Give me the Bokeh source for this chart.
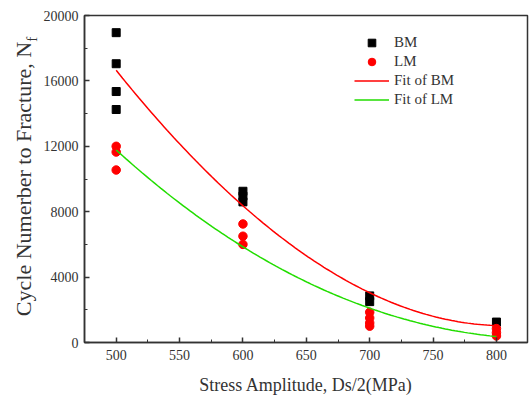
import numpy as np
from bokeh.plotting import figure
from bokeh.layouts import row
from bokeh.models import Range1d, FixedTicker, Legend, LegendItem
from bokeh.embed import file_html
from bokeh.resources import INLINE

# scatter data
bm_x = [500, 500, 500, 500, 600, 600, 600, 700, 700, 800]
bm_y = [18950, 17050, 15350, 14250, 9250, 8950, 8600, 2850, 2500, 1250]
lm_x = [500, 500, 500, 600, 600, 600, 700, 700, 700, 700, 800, 800, 800]
lm_y = [12000, 11650, 10550, 7250, 6500, 6000, 1850, 1500, 1200, 1000, 850, 600, 400]

# points
fit_bm_x = [500, 567.6, 577, 600, 646, 700, 740, 800]
fit_bm_y = [16650, 10670, 10061, 8415, 5488, 3049, 1830, 1037]
fit_lm_x = [500, 567.6, 600, 646, 700, 740, 800]
fit_lm_y = [11768, 7561, 5854, 3780, 2195, 1130, 366]

x_ticks = [500, 550, 600, 650, 700, 750, 800]
x_minor = [525, 575, 625, 675, 725, 775]
y_ticks = [0, 4000, 8000, 12000, 16000, 20000]
y_minor = [2000, 6000, 10000, 14000, 18000]

y_label_main = "Cycle Numerber to Fracture, N"
y_label_sub = "f"
x_label = "Stress Amplitude, Ds/2(MPa)"

FONT = "Liberation Serif"
W_LAB = 40
H = 397
Y0, Y1 = 0, 20000

# ---- narrow figure holding the rotated y-axis title (with subscript) ----
lab = figure(width=W_LAB, height=H, output_backend="svg", toolbar_location=None,
             x_range=Range1d(0, W_LAB), y_range=Range1d(Y0, Y1),
             min_border_left=0, min_border_right=0,
             min_border_top=15, min_border_bottom=54)
lab.axis.visible = False
lab.grid.visible = False
lab.outline_line_color = None
lab.text(x=[23], y=[(Y0 + Y1) / 2], text=[y_label_main], angle=np.pi / 2,
         text_font=FONT, text_font_size="22px", text_color="#333333",
         text_align="center", text_baseline="middle")
lab.text(x=[31], y=[18400], text=[y_label_sub], angle=np.pi / 2,
         text_font=FONT, text_font_size="15px", text_color="#333333",
         text_align="left", text_baseline="middle")

# ---- main chart ----
p = figure(width=532 - W_LAB, height=H, output_backend="svg", toolbar_location=None,
           x_range=Range1d(475, 824.5), y_range=Range1d(Y0, Y1),
           min_border_left=82 - W_LAB, min_border_right=5, min_border_top=15,
           min_border_bottom=54)
p.grid.visible = False
p.outline_line_color = "#333333"
p.outline_line_width = 1.5

for ax in (p.xaxis[0], p.yaxis[0]):
    ax.axis_line_color = "#333333"
    ax.axis_line_width = 1.5
    ax.major_tick_in = 5
    ax.major_tick_out = 0
    ax.minor_tick_in = 3
    ax.minor_tick_out = 0
    ax.major_tick_line_color = "#333333"
    ax.minor_tick_line_color = "#333333"
    ax.major_tick_line_width = 1.5
    ax.major_label_text_font = FONT
    ax.major_label_text_font_size = "14px"
    ax.major_label_text_color = "#333333"
    ax.axis_label_text_font = FONT
    ax.axis_label_text_font_style = "normal"
    ax.axis_label_text_color = "#333333"

p.xaxis.ticker = FixedTicker(ticks=x_ticks, minor_ticks=x_minor)
p.yaxis.ticker = FixedTicker(ticks=y_ticks, minor_ticks=y_minor)
p.xaxis.major_label_standoff = 7
p.yaxis.major_label_standoff = 6
p.xaxis.axis_label = x_label
p.xaxis.axis_label_text_font_size = "18px"
p.xaxis.axis_label_standoff = 12

xs = np.linspace(500, 800, 120)
cb = np.polyfit(fit_bm_x, fit_bm_y, 3)
cl = np.polyfit(fit_lm_x, fit_lm_y, 3)

r_bm = p.scatter(bm_x, bm_y, marker="square", size=8, color="black")
r_lm = p.scatter(lm_x, lm_y, marker="circle", size=8.5, color="red")
r_fb = p.line(xs, np.polyval(cb, xs), line_color="red", line_width=1.5)
r_fl = p.line(xs, np.polyval(cl, xs), line_color="#22dd00", line_width=1.5)

legend = Legend(items=[
    LegendItem(label="BM", renderers=[r_bm]),
    LegendItem(label="LM", renderers=[r_lm]),
    LegendItem(label="Fit of BM", renderers=[r_fb]),
    LegendItem(label="Fit of LM", renderers=[r_fl]),
], location=(270, 233))
legend.border_line_color = None
legend.background_fill_alpha = 0
legend.label_text_font = FONT
legend.label_text_font_size = "15px"
legend.label_text_color = "#333333"
legend.glyph_width = 35
legend.glyph_height = 19
legend.label_height = 19
legend.spacing = 0
legend.padding = 0
legend.margin = 0
legend.label_standoff = 5
p.add_layout(legend, "center")

layout = row(lab, p, spacing=0)
open("out.html", "w").write(file_html(layout, INLINE))
